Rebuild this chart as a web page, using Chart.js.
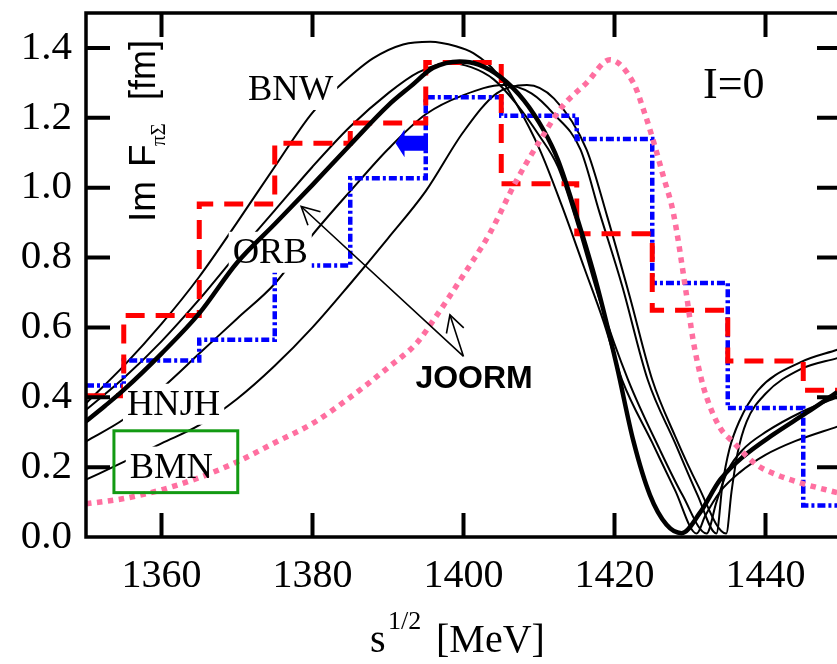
<!DOCTYPE html>
<html>
<head>
<meta charset="utf-8">
<script src="https://cdn.jsdelivr.net/npm/chart.js@4.4.0/dist/chart.umd.min.js"></script>
<style>
  html, body { margin: 0; padding: 0; background: #fff; overflow: hidden; }
  #wrap { width: 850px; height: 664px; }
</style>
</head>
<body>
<div id="wrap"><canvas id="chart" width="850" height="664"></canvas></div>
<script>
// Im F(piSigma), I=0 channel

const xTicks = [1360, 1380, 1400, 1420, 1440];
const yTicks = [0, 0.2, 0.4, 0.6, 0.8, 1.0, 1.2, 1.4];

// histogram bins (red dashed / blue dash-dot)
const binEdges = [1350, 1355, 1365, 1375, 1385, 1395, 1405, 1415, 1425, 1435, 1445, 1450];
const redBins = [0.404, 0.634, 0.953, 1.127, 1.185, 1.358, 1.011, 0.868, 0.649, 0.504, 0.420];
const blueBins = [0.434, 0.505, 0.565, 0.777, 1.027, 1.259, 1.206, 1.139, 0.727, 0.369, 0.090];

// thin black curves
const bnwCurve = [
    [1350, 0.383], [1355, 0.49], [1360, 0.61], [1365, 0.745], [1370, 0.9], [1375, 1.06],
    [1380, 1.215], [1384, 1.3], [1388, 1.37], [1392, 1.41], [1395.6, 1.418], [1399, 1.405],
    [1401.3, 1.385], [1404.4, 1.328], [1407, 1.24], [1410.1, 1.109], [1413, 0.95], [1416, 0.77],
    [1418.5, 0.62], [1421, 0.45], [1425, 0.27], [1428, 0.135], [1430.9, 0.01], [1432, 0.06],
    [1434, 0.13], [1436.6, 0.185], [1440, 0.235], [1444, 0.275], [1449.5, 0.316]
];
const orbCurve = [
    [1350, 0.364], [1355, 0.455], [1360, 0.56], [1365, 0.68], [1370, 0.81], [1375, 0.935],
    [1380, 1.06], [1385, 1.175], [1390, 1.27], [1394, 1.33], [1398, 1.357], [1401, 1.345],
    [1404, 1.31], [1407, 1.24], [1410, 1.15], [1412.5, 1.06], [1415, 0.9], [1418, 0.68],
    [1421.8, 0.45], [1426, 0.25], [1429, 0.12], [1432.2, 0.01], [1433.5, 0.1], [1435, 0.19],
    [1437, 0.25], [1440, 0.3], [1445, 0.36], [1449.5, 0.4]
];
const hnjhCurve = [
    [1350, 0.274], [1355, 0.337], [1360, 0.425], [1365, 0.525], [1370, 0.625], [1375, 0.725],
    [1380, 0.865], [1385, 0.99], [1390, 1.11], [1395, 1.21], [1400, 1.265], [1405.3, 1.294],
    [1409, 1.27], [1412, 1.21], [1415.5, 1.109], [1418, 0.93], [1421, 0.72], [1424.4, 0.45],
    [1428, 0.27], [1431, 0.12], [1433.5, 0.01], [1434.3, 0.15], [1435.2, 0.25], [1436.5, 0.33],
    [1439, 0.42], [1444.6, 0.5], [1449.5, 0.536]
];
const bmnCurve = [
    [1350, 0.164], [1355, 0.215], [1360, 0.268], [1365, 0.32], [1370, 0.395], [1375, 0.49],
    [1380, 0.6], [1385, 0.725], [1390, 0.855], [1395, 0.99], [1400, 1.16], [1404.4, 1.27],
    [1408.4, 1.294], [1412, 1.255], [1416.3, 1.109], [1419, 0.92], [1422, 0.69], [1425, 0.45],
    [1428, 0.29], [1431, 0.15], [1434.8, 0.01], [1435.5, 0.13], [1436.3, 0.24], [1437.5, 0.33],
    [1440, 0.41], [1444.6, 0.48], [1449.5, 0.512]
];

// thick black curve and pink dotted curve (JOORM)
const joormCurve = [
    [1350, 0.331], [1352.5, 0.375], [1355, 0.421], [1360, 0.525], [1365, 0.64], [1370, 0.785],
    [1375, 0.896], [1380, 1.008], [1385, 1.123], [1390, 1.235], [1393, 1.29], [1396, 1.343],
    [1399.5, 1.361], [1402, 1.352], [1405, 1.315], [1408, 1.25], [1410.6, 1.165], [1412.5, 1.08],
    [1415, 0.917], [1417.6, 0.727], [1420.3, 0.49], [1422.5, 0.275], [1424.7, 0.12], [1426.9, 0.035],
    [1428.9, 0.011], [1431.3, 0.069], [1434, 0.164], [1437.1, 0.231], [1441, 0.293], [1445.4, 0.355],
    [1449.5, 0.415]
];
const joormDotted = [
    [1350, 0.095], [1355, 0.11], [1360, 0.135], [1365, 0.17], [1370, 0.215], [1375, 0.27],
    [1380, 0.325], [1385, 0.4], [1390, 0.485], [1393.8, 0.555], [1396, 0.62], [1400, 0.75],
    [1403.5, 0.87], [1407, 1.02], [1410, 1.13], [1413, 1.23], [1416.3, 1.3], [1419.4, 1.366],
    [1422.5, 1.3], [1424, 1.213], [1425.1, 1.137], [1426.5, 1.03], [1427.8, 0.927], [1429.5, 0.698],
    [1430.4, 0.565], [1431.3, 0.47], [1432.2, 0.4], [1434, 0.312], [1435.7, 0.272], [1438.8, 0.207],
    [1441.5, 0.178], [1444.6, 0.155], [1449.5, 0.127]
];

// text placed in data units (centre x, baseline)
const curveLabels = [
    { text: 'BNW', e: 1377.1, v: 1.251 },
    { text: 'ORB', e: 1374.4, v: 0.785 },
    { text: 'HNJH', e: 1361.6, v: 0.350 },
    { text: 'BMN', e: 1361.3, v: 0.170 }
];

const SERIF = '"Liberation Serif", "Times New Roman", serif';
const SANS = '"Liberation Sans", Arial, sans-serif';

const pts = arr => arr.map(([x, y]) => ({ x, y }));
const steps = (edges, vals) => edges.map((x, i) => ({ x, y: vals[Math.min(i, vals.length - 1)] }));

const thinLine = {
    borderColor: '#000',
    borderWidth: 2,
    pointRadius: 0,
    fill: false,
    cubicInterpolationMode: 'monotone'
};

function drawArrowHead(ctx, tip, tail, len, spread) {
    const ang = Math.atan2(tail[1] - tip[1], tail[0] - tip[0]);
    ctx.beginPath();
    ctx.moveTo(tip[0] + len * Math.cos(ang + spread), tip[1] + len * Math.sin(ang + spread));
    ctx.lineTo(tip[0], tip[1]);
    ctx.lineTo(tip[0] + len * Math.cos(ang - spread), tip[1] + len * Math.sin(ang - spread));
    ctx.stroke();
}

const decor = {
    id: 'decor',
    afterDatasetDraw(chart, args) {
        // white boxes behind the curve names cut the thin lines
        if (args.index !== 2) return;
        const { ctx, scales: { x, y } } = chart;
        ctx.save();
        ctx.font = '36.5px ' + SERIF;
        ctx.fillStyle = '#fff';
        curveLabels.forEach(l => {
            const w = ctx.measureText(l.text).width;
            const cx = x.getPixelForValue(l.e), by = y.getPixelForValue(l.v);
            ctx.fillRect(cx - w / 2 - 4, by - 31, w + 8, 41);
        });
        ctx.restore();
    },
    afterDraw(chart) {
        const { ctx, chartArea: a, scales: { x, y } } = chart;
        ctx.save();

        // frame and inward ticks
        ctx.strokeStyle = '#000';
        ctx.lineWidth = 3.5;
        ctx.strokeRect(a.left, a.top, a.right - a.left, a.bottom - a.top);
        ctx.lineWidth = 4;
        ctx.beginPath();
        xTicks.forEach(t => {
            const p = x.getPixelForValue(t);
            ctx.moveTo(p, a.bottom); ctx.lineTo(p, a.bottom - 24);
            ctx.moveTo(p, a.top); ctx.lineTo(p, a.top + 24);
        });
        yTicks.forEach(t => {
            if (t === 0) return;
            const p = y.getPixelForValue(t);
            ctx.moveTo(a.left, p); ctx.lineTo(a.left + 24, p);
            ctx.moveTo(a.right, p); ctx.lineTo(a.right - 24, p);
        });
        ctx.stroke();

        // curve names
        ctx.fillStyle = '#000';
        ctx.textAlign = 'center';
        ctx.textBaseline = 'alphabetic';
        ctx.font = '36.5px ' + SERIF;
        curveLabels.forEach(l => {
            ctx.fillText(l.text, x.getPixelForValue(l.e), y.getPixelForValue(l.v));
        });
        ctx.font = '44px ' + SERIF;
        ctx.fillText('I=0', x.getPixelForValue(1435.8), y.getPixelForValue(1.257));
        ctx.font = 'bold 32px ' + SANS;
        ctx.fillText('JOORM', x.getPixelForValue(1401.4), y.getPixelForValue(0.427));

        // green box round BMN
        ctx.strokeStyle = '#129a12';
        ctx.lineWidth = 3;
        const bx0 = x.getPixelForValue(1353.7), bx1 = x.getPixelForValue(1370.1);
        const by0 = y.getPixelForValue(0.304), by1 = y.getPixelForValue(0.127);
        ctx.strokeRect(bx0, by0, bx1 - bx0, by1 - by0);

        // JOORM arrows
        ctx.strokeStyle = '#000';
        ctx.lineWidth = 1.6;
        const tail = [x.getPixelForValue(1400), y.getPixelForValue(0.517)];
        const tip1 = [x.getPixelForValue(1378.5), y.getPixelForValue(0.946)];
        const tip2 = [x.getPixelForValue(1398.2), y.getPixelForValue(0.636)];
        ctx.beginPath();
        ctx.moveTo(tail[0], tail[1]); ctx.lineTo(tip1[0], tip1[1]);
        ctx.moveTo(tail[0], tail[1]); ctx.lineTo(tip2[0], tip2[1]);
        ctx.stroke();
        drawArrowHead(ctx, tip1, tail, 20, 0.48);
        drawArrowHead(ctx, tip2, tail, 19, 0.5);

        // blue arrow
        const bt = [x.getPixelForValue(1391), y.getPixelForValue(1.127)];
        const be = x.getPixelForValue(1395.3);
        ctx.fillStyle = '#0000ff';
        ctx.beginPath();
        ctx.moveTo(bt[0], bt[1]);
        ctx.lineTo(bt[0] + 9, bt[1] - 14);
        ctx.lineTo(bt[0] + 9, bt[1] - 7.5);
        ctx.lineTo(be, bt[1] - 7.5);
        ctx.lineTo(be, bt[1] + 7.5);
        ctx.lineTo(bt[0] + 9, bt[1] + 7.5);
        ctx.lineTo(bt[0] + 9, bt[1] + 14);
        ctx.closePath();
        ctx.fill();

        // y axis title (inside the frame)
        ctx.fillStyle = '#000';
        ctx.textAlign = 'left';
        ctx.translate(155, 222);
        ctx.rotate(-Math.PI / 2);
        ctx.font = '37px ' + SANS;
        ctx.fillText('Im', 0, 0);
        ctx.fillText('F', 55, 0);
        ctx.font = '21px ' + SERIF;
        ctx.fillText('\u03c0\u03a3', 76, 10);
        ctx.font = '36px ' + SANS;
        ctx.fillText('[fm]', 122, 0);
        ctx.setTransform(1, 0, 0, 1, 0, 0);

        // x axis title
        ctx.font = '40px ' + SERIF;
        ctx.fillText('s', 370, 652);
        ctx.font = '26px ' + SERIF;
        ctx.fillText('1/2', 388, 629);
        ctx.font = '40px ' + SERIF;
        ctx.fillText('[MeV]', 436, 652);

        ctx.restore();
    }
};

new Chart(document.getElementById('chart'), {
    type: 'line',
    data: {
        datasets: [
            { ...thinLine, data: pts(joormDotted), borderColor: '#ff6fa0', borderWidth: 5.5,
              borderDash: [5.5, 5.5], order: 0 },
            { ...thinLine, data: pts(joormCurve), borderWidth: 4.5, order: 1 },
            { ...thinLine, data: steps(binEdges, redBins), stepped: 'before', borderColor: '#ff0000',
              borderWidth: 5, borderDash: [19, 11], order: 2 },
            { ...thinLine, data: steps(binEdges, blueBins), stepped: 'before', borderColor: '#0000ff',
              borderWidth: 4.5, borderDash: [8, 3, 3, 3], order: 3 },
            { ...thinLine, data: pts(bnwCurve), order: 4 },
            { ...thinLine, data: pts(orbCurve), order: 5 },
            { ...thinLine, data: pts(hnjhCurve), order: 6 },
            { ...thinLine, data: pts(bmnCurve), order: 7 }
        ]
    },
    options: {
        responsive: false,
        animation: false,
        layout: { padding: { top: 13, right: 9, left: 0, bottom: 0 } },
        plugins: { legend: { display: false }, tooltip: { enabled: false } },
        scales: {
            x: {
                type: 'linear',
                min: 1350,
                max: 1450,
                grid: { display: false, drawTicks: false },
                border: { display: false },
                afterBuildTicks: s => { s.ticks = xTicks.map(v => ({ value: v })); },
                afterFit: s => {
                    s.height = 127;
                    s.paddingLeft = 0;
                    s.paddingRight = 0;
                },
                ticks: {
                    font: { family: SERIF, size: 40 },
                    color: '#000',
                    padding: 15,
                    maxRotation: 0,
                    autoSkip: false,
                    callback: v => String(v)
                }
            },
            y: {
                min: 0,
                max: 1.5,
                grid: { display: false, drawTicks: false },
                border: { display: false },
                afterBuildTicks: s => { s.ticks = yTicks.map(v => ({ value: v })); },
                afterFit: s => {
                    s.width = 86;
                    s.paddingTop = 0;
                    s.paddingBottom = 0;
                },
                ticks: {
                    font: { family: SERIF, size: 41 },
                    color: '#000',
                    padding: 14,
                    autoSkip: false,
                    callback: v => v.toFixed(1)
                }
            }
        }
    },
    plugins: [decor]
});
</script>
</body>
</html>
